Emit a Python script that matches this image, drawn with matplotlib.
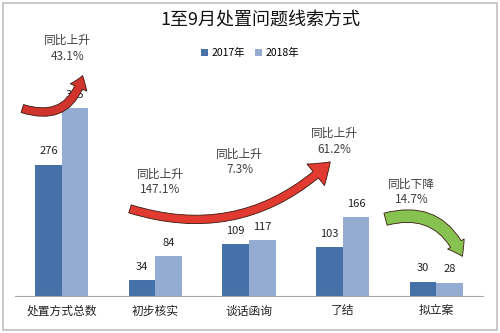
import matplotlib
matplotlib.use('Agg')
import numpy as np
import matplotlib.pyplot as plt
from matplotlib.patches import FancyArrowPatch, Rectangle

plt.rcParams['font.family'] = ['Noto Sans CJK SC', 'DejaVu Sans']

categories = ['处置方式总数', '初步核实', '谈话函询', '了结', '拟立案']
y2017 = [276, 34, 109, 103, 30]
y2018 = [395, 84, 117, 166, 28]
series_names = ['2017年', '2018年']
changes = ['同比上升\n43.1%', '同比上升\n147.1%', '同比上升\n7.3%',
           '同比上升\n61.2%', '同比下降\n14.7%']

c17 = '#4571A8'
c18 = '#94ABD2'

fig = plt.figure(figsize=(5, 3.33), dpi=100)
ax = fig.add_axes([0.03, 0.111, 0.936, 0.80])

x = np.arange(len(categories))
w = 0.285
b1 = ax.bar(x - w / 2, y2017, w, color=c17, label=series_names[0], zorder=2)
b2 = ax.bar(x + w / 2, y2018, w, color=c18, label=series_names[1], zorder=2)

for bars, vals in ((b1, y2017), (b2, y2018)):
    for r, v in zip(bars, vals):
        ax.annotate(str(v), (r.get_x() + r.get_width() / 2, v),
                    xytext=(0, 6), textcoords='offset points',
                    ha='center', va='bottom', fontsize=8, color='#222222',
                    zorder=3)

ax.set_xlim(-0.5, 4.5)
ax.set_ylim(0, 560)
ax.set_xticks(x)
ax.set_xticklabels(categories, fontsize=8.5, color='#222222')
ax.tick_params(axis='x', length=0, pad=6)
ax.set_yticks([])
for s in ('top', 'left', 'right'):
    ax.spines[s].set_visible(False)
ax.spines['bottom'].set_color('#A6A6A6')

# growth notes
note_pos = [(0.06, 520), (1.05, 240), (1.90, 282), (2.91, 325), (3.74, 219)]
for (nx, ny), t in zip(note_pos, changes):
    ax.text(nx, ny, t, ha='center', va='center', fontsize=8.5,
            color='#404040', linespacing=1.3, zorder=4)

# curved arrows
arrows = [
    ((-0.45, 396), (0.23, 469), 0.55, '#D0342C', 'simple,head_length=9,head_width=13,tail_width=6'),
    ((0.70, 185), (2.89, 286), 0.30, '#E03A31', 'simple,head_length=14,head_width=20,tail_width=6'),
    ((3.43, 160), (4.29, 78), -0.45, '#86C250', 'simple,head_length=10,head_width=14,tail_width=9'),
]
for p0, p1, rad, col, style in arrows:
    ax.add_patch(FancyArrowPatch(p0, p1, connectionstyle='arc3,rad=%s' % rad,
                                 arrowstyle=style, mutation_scale=1,
                                 facecolor=col, edgecolor='#3A1A10',
                                 linewidth=0.6, zorder=5, clip_on=False))

fig.text(0.52, 0.94, '1至9月处置问题线索方式', ha='center', va='center',
         fontsize=13, color='#111111')
fig.legend(handles=[b1, b2], loc='center', bbox_to_anchor=(0.5, 0.84), ncol=2,
           frameon=False, fontsize=7.5, handlelength=0.7, handleheight=0.7,
           handletextpad=0.3, columnspacing=1.0)

fig.patches.append(Rectangle((0.006, 0.008), 0.988, 0.984, transform=fig.transFigure,
                             fill=False, edgecolor='#BFBFBF', linewidth=1.2))

fig.savefig('out.png', dpi=100)
